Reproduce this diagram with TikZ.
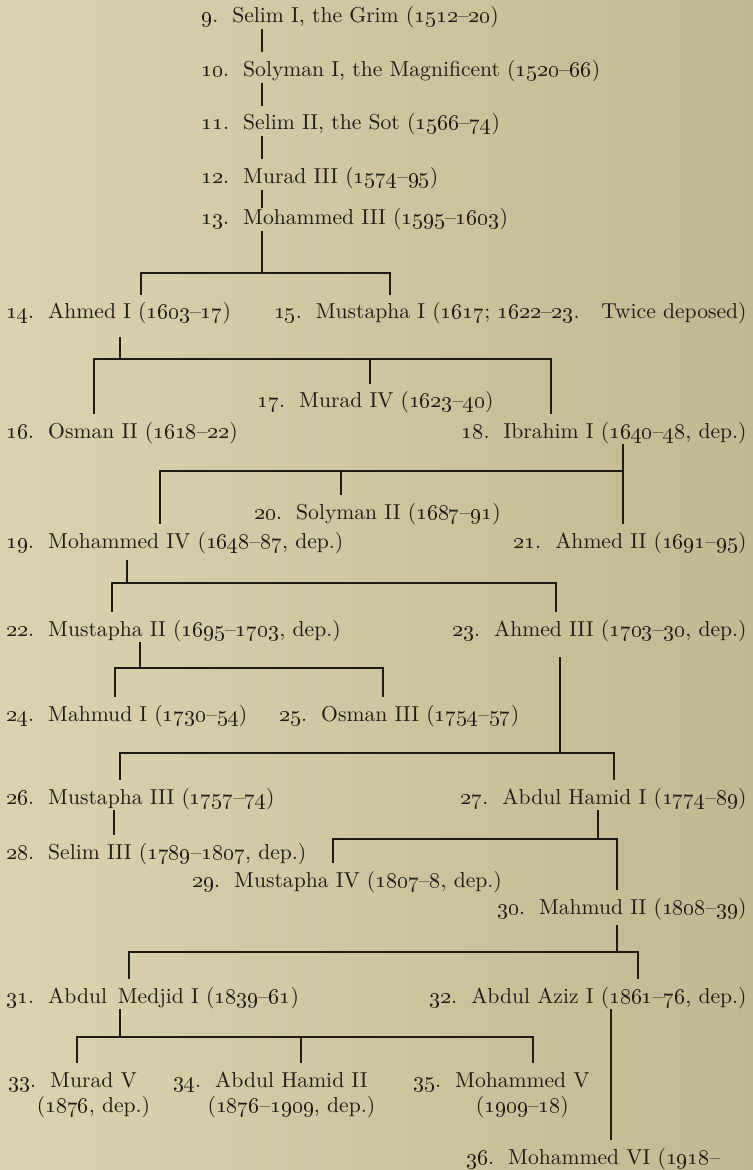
\documentclass[tikz,border=0pt]{standalone}
\usepackage{tikz}
\definecolor{paperl}{RGB}{218,211,173}
\definecolor{paperm}{RGB}{211,203,165}
\definecolor{paperr}{RGB}{194,184,146}
\definecolor{ink}{RGB}{30,27,23}
\newcommand\osn[1]{\oldstylenums{#1}}
\newcommand\sno[1]{\osn{#1}.\hspace{.65em}}
\newcommand\under[2]{\begin{tabular}[t]{@{}c@{}}#1\\\makebox[0pt]{#2}\end{tabular}}

\begin{document}
\begin{tikzpicture}[
    x=0.5pt, y=-0.5pt,
    font=\fontsize{10.8}{12.5}\selectfont,
    sultan/.style={anchor=base west, inner sep=0pt, text height=12pt, text depth=3pt, text=ink},
    sultanr/.style={sultan, anchor=base east},
    sultant/.style={anchor=base west, inner sep=0pt, text height=12pt, text=ink},
    link/.style={draw=ink, line width=0.65pt},
  ]
  \fill[left color=paperl, middle color=paperm, right color=paperr] (0,0) rectangle (753,1170);
  \useasboundingbox (0,0) rectangle (753,1170);

  \node[sultan] (s9) at (201,23) {\sno{9}Selim I, the Grim (\osn{1512}--\osn{20})};
  \node[sultan] (s10) at (201,76.5) {\sno{10}Solyman I, the Magnificent (\osn{1520}--\osn{66})};
  \node[sultan] (s11) at (201,130) {\sno{11}Selim II, the Sot (\osn{1566}--\osn{74})};
  \node[sultan] (s12) at (201,183.5) {\sno{12}Murad III (\osn{1574}--\osn{95})};
  \node[sultan] (s13) at (201,225) {\sno{13}Mohammed III (\osn{1595}--\osn{1603})};
  \node[sultan] (s14) at (6,319) {\sno{14}Ahmed I (\osn{1603}--\osn{17})};
  \node[sultanr] (s15) at (747,319) {\sno{15}Mustapha I (\osn{1617}; \osn{1622}--\osn{23}.\quad Twice deposed)};
  \node[sultan] (s16) at (6,438) {\sno{16}Osman II (\osn{1618}--\osn{22})};
  \node[sultan] (s17) at (257,408) {\sno{17}Murad IV (\osn{1623}--\osn{40})};
  \node[sultanr] (s18) at (747,438) {\sno{18}Ibrahim I (\osn{1640}--\osn{48}, dep.)};
  \node[sultan] (s19) at (6,548) {\sno{19}Mohammed IV (\osn{1648}--\osn{87}, dep.)};
  \node[sultan] (s20) at (254,519) {\sno{20}Solyman II (\osn{1687}--\osn{91})};
  \node[sultanr] (s21) at (747,548) {\sno{21}Ahmed II (\osn{1691}--\osn{95})};
  \node[sultan] (s22) at (6,636) {\sno{22}Mustapha II (\osn{1695}--\osn{1703}, dep.)};
  \node[sultanr] (s23) at (747,636) {\sno{23}Ahmed III (\osn{1703}--\osn{30}, dep.)};
  \node[sultan] (s24) at (6,721) {\sno{24}Mahmud I (\osn{1730}--\osn{54})};
  \node[sultan] (s25) at (279,721) {\sno{25}Osman III (\osn{1754}--\osn{57})};
  \node[sultan] (s26) at (6,804) {\sno{26}Mustapha III (\osn{1757}--\osn{74})};
  \node[sultanr] (s27) at (747,804) {\sno{27}Abdul Hamid I (\osn{1774}--\osn{89})};
  \node[sultan] (s28) at (6,859) {\sno{28}Selim III (\osn{1789}--\osn{1807}, dep.)};
  \node[sultan] (s29) at (192,887) {\sno{29}Mustapha IV (\osn{1807}--\osn{8}, dep.)};
  \node[sultanr] (s30) at (747,914) {\sno{30}Mahmud II (\osn{1808}--\osn{39})};
  \node[sultan] (s31) at (6,1003) {\sno{31}Abdul\enskip Medjid I (\osn{1839}--\osn{61})};
  \node[sultanr] (s32) at (747,1003) {\sno{32}Abdul Aziz I (\osn{1861}--\osn{76}, dep.)};
  \node[sultant] (s33) at (8,1087) {\sno{33}\under{Murad V}{(\osn{1876}, dep.)}};
  \node[sultant] (s34) at (173,1087) {\sno{34}\under{Abdul Hamid II}{(\osn{1876}--\osn{1909}, dep.)}};
  \node[sultant] (s35) at (413,1087) {\sno{35}\under{Mohammed V}{(\osn{1909}--\osn{18})}};
  \node[sultan] (s36) at (466,1164) {\sno{36}Mohammed VI (\osn{1918}--};

  \coordinate (t9) at (262,0);
  \draw[link] (s9.south -| t9) -- (s10.north -| t9);
  \draw[link] (s10.south -| t9) -- (s11.north -| t9);
  \draw[link] (s11.south -| t9) -- (s12.north -| t9);
  \draw[link, shorten >=-3.5pt] (s12.south -| t9) -- (s13.north -| t9);

  \coordinate (b13l) at (141,273);
  \coordinate (b13r) at (390,273);
  \draw[link] (s13.south -| t9) -- (t9 |- b13l);
  \draw[link] (s14.north -| b13l) -- (b13l) -- (b13r) -- (s15.north -| b13r);

  \coordinate (t14) at (120,359);
  \coordinate (b14l) at (94,359);
  \coordinate (b14m) at (370,359);
  \coordinate (b14r) at (551,359);
  \draw[link, shorten <=6pt] (s14.south -| t14) -- (t14);
  \draw[link] (s16.north -| b14l) -- (b14l) -- (b14r) -- (s18.north -| b14r);
  \draw[link] (b14m) -- (s17.north -| b14m);

  \coordinate (b18l) at (160,471);
  \coordinate (b18m) at (341,471);
  \coordinate (b18r) at (623,471);
  \draw[link] (s18.south -| b18r) -- (s21.north -| b18r);
  \draw[link] (s19.north -| b18l) -- (b18l) -- (b18r);
  \draw[link] (b18m) -- (s20.north -| b18m);

  \coordinate (t19) at (127,583);
  \coordinate (b19l) at (112,583);
  \coordinate (b19r) at (556,583);
  \draw[link, shorten <=3pt] (s19.south -| t19) -- (t19);
  \draw[link] (s22.north -| b19l) -- (b19l) -- (b19r) -- (s23.north -| b19r);

  \coordinate (t22) at (140,668);
  \coordinate (b22l) at (115,668);
  \coordinate (b22r) at (383,668);
  \draw[link] (s22.south -| t22) -- (t22);
  \draw[link] (s24.north -| b22l) -- (b22l) -- (b22r) -- (s25.north -| b22r);

  \coordinate (t23) at (560,753);
  \coordinate (b23l) at (120,753);
  \coordinate (b23r) at (614,753);
  \draw[link, shorten <=7.5pt] (s23.south -| t23) -- (t23);
  \draw[link] (s26.north -| b23l) -- (b23l) -- (b23r) -- (s27.north -| b23r);

  \coordinate (t26) at (114,0);
  \draw[link] (s26.south -| t26) -- (s28.north -| t26);

  \coordinate (t27) at (598,839);
  \coordinate (b27l) at (333,839);
  \coordinate (b27r) at (617,839);
  \draw[link] (s27.south -| t27) -- (t27);
  \draw[link] (s29.north -| b27l) -- (b27l) -- (b27r) -- (s30.north -| b27r);

  \coordinate (t30) at (617,952);
  \coordinate (b30l) at (129,952);
  \coordinate (b30r) at (638,952);
  \draw[link, shorten <=2.5pt] (s30.south -| t30) -- (t30);
  \draw[link] (s31.north -| b30l) -- (b30l) -- (b30r) -- (s32.north -| b30r);

  \coordinate (t31) at (120,1037);
  \coordinate (b31l) at (77,1037);
  \coordinate (b31m) at (301,1037);
  \coordinate (b31r) at (533,1037);
  \draw[link] (s31.south -| t31) -- (t31);
  \draw[link] (s33.north -| b31l) -- (b31l) -- (b31r) -- (s35.north -| b31r);
  \draw[link] (b31m) -- (s34.north -| b31m);

  \coordinate (t32) at (611,0);
  \draw[link] (s32.south -| t32) -- (s36.north -| t32);
\end{tikzpicture}
\end{document}
